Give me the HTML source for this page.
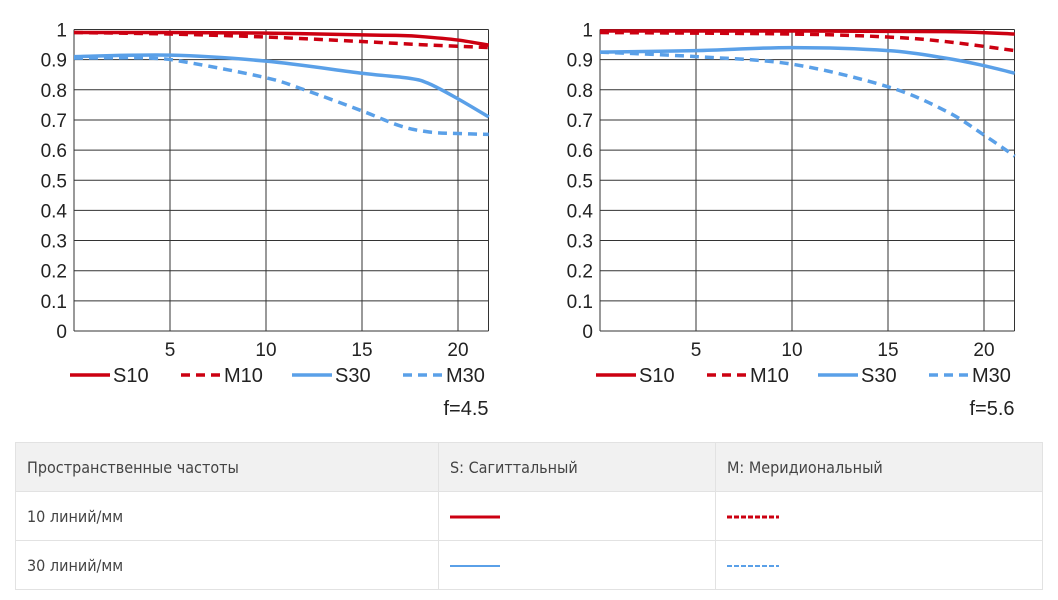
<!DOCTYPE html>
<html><head><meta charset="utf-8"><style>
body{margin:0;width:1058px;height:600px;background:#fff;font-family:"Liberation Sans","DejaVu Sans",sans-serif;overflow:hidden;position:relative}
svg{position:absolute;left:0;top:0}
table{position:absolute;left:15px;top:442px;width:1028px;border-collapse:collapse;font-family:"DejaVu Sans Condensed","Liberation Sans Narrow","Liberation Sans",sans-serif;font-size:16px;line-height:18px;color:#444}
tr{height:49px}
td{border:1px solid #e2e2e2;padding:2px 0 0 11px;vertical-align:middle}
tr.h td{background:#f1f1f1}
</style></head><body>
<svg id="chart" width="1058" height="440"></svg>
<table>
<tr class="h"><td style="width:411px">Пространственные частоты</td><td style="width:265px">S: Сагиттальный</td><td>M: Меридиональный</td></tr>
<tr><td>10 линий/мм</td><td><svg width="60" height="6" style="position:static;display:block"><line x1="0" y1="3" x2="50" y2="3" stroke="#cc0011" stroke-width="3"/></svg></td><td><svg width="60" height="6" style="position:static;display:block"><line x1="0" y1="3" x2="52" y2="3" stroke="#cc0011" stroke-width="3" stroke-dasharray="5,2"/></svg></td></tr>
<tr><td>30 линий/мм</td><td><svg width="60" height="6" style="position:static;display:block"><line x1="0" y1="3" x2="50" y2="3" stroke="#5aa0e8" stroke-width="2"/></svg></td><td><svg width="60" height="6" style="position:static;display:block"><line x1="0" y1="3" x2="52" y2="3" stroke="#5aa0e8" stroke-width="2" stroke-dasharray="5,2"/></svg></td></tr>
</table>
<script>
const xTicks=[5,10,15,20];
const yTicks=[0,0.1,0.2,0.3,0.4,0.5,0.6,0.7,0.8,0.9,1];
const yLabels=["0","0.1","0.2","0.3","0.4","0.5","0.6","0.7","0.8","0.9","1"];
const seriesNames=["S10","M10","S30","M30"];
const apertures=["f=4.5","f=5.6"];
const xS10a=[0,5,10,15,17,18,20,21.6], yS10a=[0.99,0.99,0.988,0.982,0.98,0.977,0.965,0.948];
const xM10a=[0,5,10,15,18,21.6], yM10a=[0.99,0.985,0.975,0.96,0.95,0.94];
const xS30a=[0,5,10,15,17.5,18.5,20,21.6], yS30a=[0.91,0.915,0.895,0.855,0.838,0.82,0.77,0.71];
const xM30a=[0,4,6,10,12,15,17,18.5,20,21.6], yM30a=[0.905,0.905,0.89,0.84,0.80,0.73,0.68,0.66,0.655,0.652];
const xS10b=[0,10,18,21.6], yS10b=[0.995,0.995,0.993,0.985];
const xM10b=[0,10,15,18,21.6], yM10b=[0.99,0.985,0.975,0.96,0.93];
const xS30b=[0,5,10,15,18,20,21.6], yS30b=[0.925,0.93,0.94,0.93,0.905,0.88,0.855];
const xM30b=[0,5,10,15,18,20,21.6], yM30b=[0.925,0.91,0.885,0.81,0.73,0.65,0.58];
const panels=[{ox:74,xs:[xS10a,xM10a,xS30a,xM30a],ys:[yS10a,yM10a,yS30a,yM30a]},{ox:600,xs:[xS10b,xM10b,xS30b,xM30b],ys:[yS10b,yM10b,yS30b,yM30b]}];
const NS="http://www.w3.org/2000/svg",svg=document.getElementById('chart');
const colors=["#cc0011","#cc0011","#5aa0e8","#5aa0e8"],dash=[null,"9,6",null,"9,6"],widths=[3.5,3.5,3.5,3.5];
function mk(t,a,p){const e=document.createElementNS(NS,t);for(const k in a)e.setAttribute(k,a[k]);(p||svg).appendChild(e);return e;}
const W=414.5,T=29.5,B=331;
panels.forEach((p,pi)=>{
 const g=mk('g',{});
 
 
 const X=v=>p.ox+v*19.2, Y=v=>B-v*(B-T);
 yTicks.forEach((t,i)=>{const l=mk('line',{x1:p.ox,x2:p.ox+W,y1:Y(t),y2:Y(t),stroke:'#333','stroke-width':1},g);
  
  const tx=mk('text',{x:p.ox-7,y:Y(t)+7,'text-anchor':'end','font-size':19,fill:'#222'},g);tx.textContent=yLabels[i];
  });
 xTicks.forEach(t=>{const l=mk('line',{x1:X(t),x2:X(t),y1:T,y2:B,stroke:'#333','stroke-width':1},g);
  
  const tx=mk('text',{x:X(t),y:356,'text-anchor':'middle','font-size':19,fill:'#222'},g);tx.textContent=t;
  });
 [p.ox,p.ox+W].forEach(x=>mk('line',{x1:x,x2:x,y1:T,y2:B,stroke:'#333'},g));
 p.xs.forEach((xs,si)=>{const ys=p.ys[si];const pts=xs.map((x,i)=>[X(x),Y(ys[i])]);
  let d='M'+pts[0][0]+','+pts[0][1];
  for(let i=0;i<pts.length-1;i++){const p0=pts[i-1]||pts[i],p1=pts[i],p2=pts[i+1],p3=pts[i+2]||p2;
   d+=' C'+(p1[0]+(p2[0]-p0[0])/6)+','+(p1[1]+(p2[1]-p0[1])/6)+' '+(p2[0]-(p3[0]-p1[0])/6)+','+(p2[1]-(p3[1]-p1[1])/6)+' '+p2[0]+','+p2[1];}
  const a={d:d,fill:'none',stroke:colors[si],'stroke-width':widths[si]};if(dash[si])a['stroke-dasharray']=dash[si];
  const path=mk('path',a,g);
  
  
  const lx=p.ox-4+si*111;
  const la={x1:lx,x2:lx+40,y1:375,y2:375,stroke:colors[si],'stroke-width':3.5};if(dash[si])la['stroke-dasharray']='9,6';
  const ll=mk('line',la,g);
  
  const lt=mk('text',{x:lx+43,y:382,'font-size':20,fill:'#222'},g);lt.textContent=seriesNames[si];
  
 });
 const f=mk('text',{x:p.ox+W,y:415,'text-anchor':'end','font-size':20,fill:'#222'},g);f.textContent=apertures[pi];
 
});
</script>
</body></html>
